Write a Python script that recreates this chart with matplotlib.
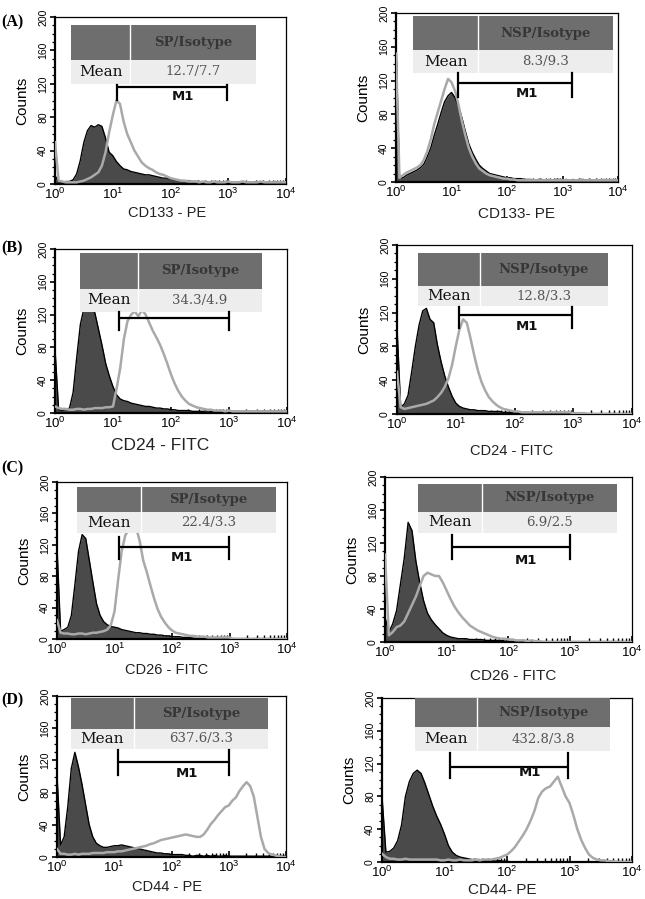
import numpy as np
import matplotlib
matplotlib.use('Agg')
import matplotlib.pyplot as plt
from matplotlib.patches import Rectangle
from matplotlib.ticker import LogLocator, MultipleLocator, NullFormatter, FixedLocator

plt.rcParams['font.family'] = ['Liberation Sans', 'DejaVu Sans']
plt.rcParams['mathtext.fontset'] = 'custom'
plt.rcParams['mathtext.rm'] = 'Liberation Sans'
plt.rcParams['mathtext.it'] = 'Liberation Sans:italic'
plt.rcParams['mathtext.bf'] = 'Liberation Sans:bold'

# channels: 16 per decade, log10 positions k/16
CH_PER_DEC = 16

# ---------------- data (counts per channel) ----------------
a_iso_sp = [10,3,2,3,3,5,12,28,50,64, 70,68,71,69,55,38,34,27,22,18, 17,15,14,13,12,11,11,10,9,8,
            7,7,6,5,5,4,4,4,3,3, 3,2,3,2,2,3,2,2,3,2, 2,2,3,2,2,2,3,2,2,2, 2,3,2,2,2]
a_sp = [50,4,3,2,2,2,2,3,4,6, 8,11,14,22,38,62,82,100,96,75, 60,50,40,33,26,22,19,17,14,12,
        11,9,7,6,5,4,4,3,3,3, 2,3,2,2,3,2,2,2,3,2, 2,2,3,2,2,2,2,3,2,2, 2,2,2,2,2]
a_iso_nsp = [168,6,5,8,10,12,14,17,21,30, 40,55,68,82,95,102,106,100,90,76, 60,45,35,27,20,16,13,10,9,8,
             7,6,5,5,4,4,4,3,3,3, 2,3,3,2,3,2,3,3,2,3, 2,3,2,3,3,2,3,2,3,2, 3,2,3,2,3]
a_nsp = [152,5,8,11,13,15,17,20,26,36, 50,68,82,96,110,122,118,108,92,72, 55,40,30,22,16,13,10,8,7,6,
         5,4,4,3,3,2,2,2,2,2, 2,2,2,2,2,2,2,2,2,2, 2,2,2,2,2,2,2,2,2,2, 2,2,2,2,2]

b_iso_sp = [78,4,3,4,6,25,68,108,128,132, 130,122,102,82,60,45,32,22,17,15, 14,12,11,10,9,8,8,7,6,6,
            5,5,4,4,3,3,3,3,2,2, 2,2,3,2,2,2,2,2,2,2, 2,2,2,2,2,2,2,2,2,2, 2,2,2,2,2]
b_sp = [8,6,5,5,4,4,5,5,4,5, 5,6,6,6,7,7,8,30,55,90, 112,120,124,118,126,120,110,100,92,83,
        72,60,47,36,27,20,15,11,9,7, 6,5,4,4,3,3,3,2,3,2, 2,2,2,2,2,2,2,2,2,2, 2,2,2,2,2]
b_iso_nsp = [103,8,12,22,50,80,105,122,125,112, 108,82,62,45,32,21,13,9,7,6, 5,5,4,4,4,3,3,3,3,2,
             2,2,2,2,1,2,1,1,1,1, 1,1,0,0,0,0,0,0,0,0, 0,0,0,0,0,0,0,0,0,0, 0,0,0,0,0]
b_nsp = [50,8,6,7,8,9,10,11,12,14, 16,20,25,32,42,58,80,100,112,108, 90,70,52,38,28,20,15,11,8,6,
         5,4,3,3,2,2,2,2,2,2, 2,2,2,2,2,2,2,2,1,1, 1,1,0,0,0,0,0,0,0,0, 0,0,0,0,0]

c_iso_sp = [117,10,12,15,30,70,112,133,128,100, 72,45,30,22,18,16,15,14,12,11, 10,9,8,8,7,7,6,6,5,5,
            4,4,3,3,3,2,2,2,1,1, 1,1,0,0,0,0,0,0,0,0, 0,0,0,0,0,0,0,0,0,0, 0,0,0,0,0]
c_sp = [24,8,7,7,6,6,7,7,6,7, 8,8,9,10,12,18,35,75,112,132, 140,138,142,125,100,85,68,52,38,28,
        21,15,11,8,7,6,5,4,4,3, 3,3,2,2,2,2,2,2,2,0, 0,0,0,0,0,0,0,0,0,0, 0,0,0,0,0]
c_iso_nsp = [30,12,22,38,70,102,145,135,98,72, 50,35,27,21,16,11,8,6,5,4, 4,4,3,3,3,3,2,2,2,2,
             2,1,1,1,1,0,0,0,0,0, 0,0,0,0,0,0,0,0,0,0, 0,0,0,0,0,0,0,0,0,0, 0,0,0,0,0]
c_nsp = [106,8,12,18,20,25,35,45,55,68, 80,84,82,80,80,72,62,52,43,36, 30,25,20,17,14,12,10,8,6,5,
         4,4,3,3,2,2,2,1,2,1, 1,0,0,0,0,0,0,0,0,0, 0,0,0,0,0,0,0,0,0,0, 0,0,0,0,0]

d_iso_sp = [102,15,25,62,110,130,112,90,65,40, 25,17,14,12,12,13,14,14,15,14, 13,12,11,10,9,8,7,6,5,5,
            4,4,3,3,3,3,2,2,1,2, 2,1,2,1,2,1,1,2,1,1, 1,1,1,1,1,1,1,1,1,1, 1,1,1,1,1]
d_sp = [10,4,4,3,3,4,3,4,4,4, 5,5,5,5,6,6,6,7,7,8, 9,10,11,12,13,14,16,17,19,21,
        22,23,24,25,26,27,28,27,26,25, 25,28,34,41,46,52,57,62,64,70, 74,82,88,93,88,75,50,25,10,5,
        3,2,1,0,0]
d_iso_nsp = [80,12,13,17,26,45,80,98,108,112, 108,96,82,68,56,46,34,20,12,8, 6,5,4,3,3,3,2,2,2,1,
             2,1,1,0,0,0,0,0,0,0, 0,0,0,0,0,0,0,0,0,0, 0,0,0,0,0,0,0,0,0,0, 0,0,0,0,0]
d_nsp = [10,6,4,4,3,3,4,3,3,3, 3,3,3,3,3,2,2,3,2,2, 3,2,2,2,3,2,3,3,3,4,
         5,7,9,13,18,25,32,40,50,62, 78,86,90,92,98,104,92,80,72,57, 40,27,17,9,5,3,2,2,1,1,
         0,0,0,0,0]

letters = ['(A)', None, '(B)', None, '(C)', None, '(D)', None]
xlabels = ['CD133 - PE', 'CD133- PE', 'CD24 - FITC', 'CD24 - FITC',
           'CD26 - FITC', 'CD26 - FITC', 'CD44 - PE', 'CD44- PE']
headers = ['SP/Isotype', 'NSP/Isotype'] * 4
means = ['12.7/7.7', '8.3/9.3', '34.3/4.9', '12.8/3.3',
         '22.4/3.3', '6.9/2.5', '637.6/3.3', '432.8/3.8']
iso_series = [a_iso_sp, a_iso_nsp, b_iso_sp, b_iso_nsp, c_iso_sp, c_iso_nsp, d_iso_sp, d_iso_nsp]
marker_series = [a_sp, a_nsp, b_sp, b_nsp, c_sp, c_nsp, d_sp, d_nsp]
# M1 gate: (low, high) in fluorescence units
m1_gate = [(11.8, 955), (13.1, 1480), (12.7, 1000), (11.4, 955),
           (12, 977), (12.2, 990), (11.6, 1015), (12.3, 944)]
m1_show_label = [True, True, False, True, True, True, True, True]

# ---------------- layout (pixels) ----------------
W, H = 645, 899
# left, right, top, bottom in px
axes_px = [(55, 286, 17, 184), (396, 618, 13, 182),
           (55, 287, 249, 413), (397, 632, 245, 414),
           (57, 287, 482, 639), (385, 632, 477, 642),
           (57, 286, 696, 857), (382, 632, 698, 862)]
# table geometry in axes fraction: x0, xdiv, x1, ytop, ymid, ybot
tables = [(0.069, 0.325, 0.870, 0.952, 0.743, 0.599),
          (0.077, 0.369, 0.977, 0.982, 0.781, 0.645),
          (0.108, 0.358, 0.892, 0.976, 0.756, 0.616),
          (0.089, 0.353, 0.898, 0.953, 0.757, 0.639),
          (0.087, 0.365, 0.952, 0.968, 0.809, 0.675),
          (0.134, 0.393, 0.939, 0.958, 0.788, 0.661),
          (0.061, 0.336, 0.921, 0.988, 0.795, 0.671),
          (0.132, 0.380, 0.912, 1.000, 0.823, 0.677)]
# M1 bar: y, tick low, tick high (counts); label (x frac, y counts)
m1_geom = [(116, 101, 118, 0.554, 105), (117, 101, 129, 0.59, 105),
           (116, 101, 123, 0.55, 104), (117, 102, 127, 0.553, 103),
           (117, 102, 130, 0.543, 104), (115, 101, 130, 0.571, 99),
           (118, 102, 133, 0.568, 104), (116, 102, 133, 0.592, 109)]
xlabel_px = [(167, 213, 10.5), (517, 214, 11), (160, 446, 12.5), (512, 451, 10.5),
             (167, 670, 10.5), (513, 676, 11), (167, 887, 10.5), (502, 890, 11)]
letter_px = [(1, 22), None, (1, 248), None, (1, 468), None, (1, 700), None]

fig = plt.figure(figsize=(W / 100, H / 100), dpi=100)
fig.patch.set_facecolor('white')

serif = ['Liberation Serif', 'DejaVu Serif']
wide_serif = ['DejaVu Serif']
DARK_FILL = '#4a4a4a'
GRAY_LINE = '#a9a9a9'

for i in range(8):
    l, r, t, b = axes_px[i]
    ax = fig.add_axes([l / W, 1 - b / H, (r - l) / W, (b - t) / H])
    iso = np.asarray(iso_series[i], dtype=float)
    mk = np.asarray(marker_series[i], dtype=float)
    x_iso = 10 ** (np.arange(len(iso)) / CH_PER_DEC)
    x_mk = 10 ** (np.arange(len(mk)) / CH_PER_DEC)

    ax.fill_between(x_iso, 0, iso, color=DARK_FILL, lw=0, zorder=2)
    ax.plot(x_iso, iso, color='black', lw=1.0, zorder=3)
    ax.plot(x_mk, mk, color=GRAY_LINE, lw=1.8, zorder=4)

    ax.set_xscale('log')
    ax.set_xlim(1, 1e4)
    ax.set_ylim(0, 200)
    ax.xaxis.set_major_locator(LogLocator(base=10, numticks=10))
    ax.xaxis.set_minor_locator(LogLocator(base=10, subs=np.arange(2, 10), numticks=20))
    ax.xaxis.set_minor_formatter(NullFormatter())
    ax.yaxis.set_major_locator(FixedLocator([0, 40, 80, 120, 160, 200]))
    ax.yaxis.set_minor_locator(MultipleLocator(10))
    ax.tick_params(axis='x', which='major', direction='in', length=4.5, width=1.2,
                   labelsize=9.5, pad=2.2, colors='black')
    ax.tick_params(axis='x', which='minor', direction='in', length=2.8, width=1.0)
    ax.tick_params(axis='y', which='major', direction='out', length=3.5, width=1.2,
                   labelsize=7.5, pad=1.5, colors='black')
    ax.tick_params(axis='y', which='minor', direction='out', length=2.2, width=0.9)
    ax.tick_params(axis='y', labelrotation=90)
    for lab in ax.get_yticklabels():
        lab.set_va('center')
    for side in ['left', 'bottom']:
        ax.spines[side].set_linewidth(1.6)
    for side in ['top', 'right']:
        ax.spines[side].set_linewidth(0.9)
    ax.set_ylabel('Counts', fontsize=11, labelpad=6)

    xl, yl, fs = xlabel_px[i]
    ax.set_xlabel(xlabels[i], fontsize=fs, color='#222222', va='center')
    ax.xaxis.set_label_coords(xl / W, 1 - yl / H, transform=fig.transFigure)

    # table
    x0, xd, x1, yt, ym, yb = tables[i]
    tr = ax.transAxes
    ax.add_patch(Rectangle((x0, ym), x1 - x0, yt - ym, transform=tr, facecolor='#6e6e6e',
                           edgecolor='none', zorder=6))
    ax.add_patch(Rectangle((x0, yb), x1 - x0, ym - yb, transform=tr, facecolor='#ededed',
                           edgecolor='none', zorder=6))
    ax.plot([xd, xd], [yb, yt], transform=tr, color='white', lw=1.0, zorder=7)
    ax.text((xd + x1) / 2, (ym + yt) / 2, headers[i], transform=tr, ha='center', va='center',
            fontsize=9.5, fontweight='bold', family=wide_serif, color='#363636', zorder=8)
    ax.text((x0 + xd) / 2, (yb + ym) / 2, 'Mean', transform=tr, ha='center', va='center',
            fontsize=11, family=wide_serif, color='#111111', zorder=8)
    ax.text((xd + x1) / 2, (yb + ym) / 2, means[i], transform=tr, ha='center', va='center',
            fontsize=9.5, family=wide_serif, color='#555555', zorder=8)

    # M1 gate
    lo, hi = m1_gate[i]
    yb1, tlo, thi, lx, ly = m1_geom[i]
    ax.plot([lo, hi], [yb1, yb1], color='black', lw=1.6, zorder=9, solid_capstyle='butt')
    ax.plot([lo, lo], [tlo, thi], color='black', lw=1.6, zorder=9)
    ax.plot([hi, hi], [tlo, thi], color='black', lw=1.6, zorder=9)
    if m1_show_label[i]:
        ax.text(10 ** (lx * 4), ly, 'M1', ha='center', va='center', fontsize=9.5,
                fontweight='bold', family=['DejaVu Sans'], color='#111111', zorder=9)

    if letters[i]:
        px, py = letter_px[i]
        fig.text(px / W, 1 - py / H, letters[i], ha='left', va='center', fontsize=11.5,
                 fontweight='bold', family=serif)

fig.savefig('out.png', dpi=100, facecolor='white')
